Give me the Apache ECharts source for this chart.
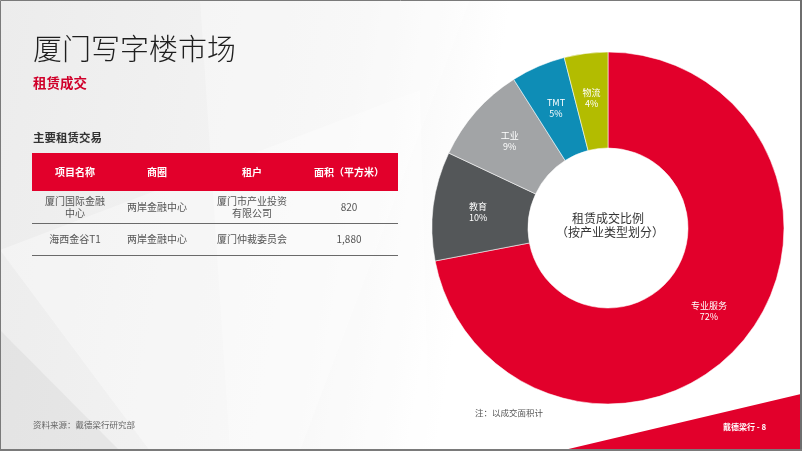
<!DOCTYPE html>
<html><head><meta charset="utf-8">
<script src="https://cdn.jsdelivr.net/npm/echarts@6/dist/echarts.min.js"></script>
<style>html,body{margin:0;padding:0;background:#fff}#c{width:802px;height:451px}</style>
</head><body><div id="c"></div>
<script>
const categories = ['专业服务', '教育', '工业', 'TMT', '物流'];
const shares = [72, 10, 9, 5, 4];
const sliceColors = ['#E2002B', '#545759', '#A2A4A6', '#0E8DB6', '#B3BC00'];

const tableHeader = ['项目名称', '商圈', '租户', '面积（平方米）'];
const tableRows = [
  ['厦门国际金融\n中心', '两岸金融中心', '厦门市产业投资\n有限公司', '820'],
  ['海西金谷T1', '两岸金融中心', '厦门仲裁委员会', '1,880']
];

const FONT = '"Noto Sans CJK SC", "Noto Sans", sans-serif';
const colX = [75, 157, 252, 349];
const tblLeft = 32, tblRight = 398, headTop = 153, headH = 38, rowH = 32;

const graphics = [];
// background
graphics.push({type:'rect', z:-10, shape:{x:0,y:0,width:802,height:451},
  style:{fill:{type:'linear',x:0,y:0,x2:1,y2:0.3,colorStops:[{offset:0,color:'#ECECEC'},{offset:0.45,color:'#F5F5F5'},{offset:0.62,color:'#FFFFFF'},{offset:1,color:'#FFFFFF'}]}}});
graphics.push({type:'polygon', z:-9, shape:{points:[[0,250],[420,90],[430,451],[150,451]]}, style:{fill:'rgba(255,255,255,0.35)'}});
graphics.push({type:'polygon', z:-9, shape:{points:[[200,0],[470,0],[300,451],[230,451]]}, style:{fill:'rgba(255,255,255,0.3)'}});
graphics.push({type:'polygon', z:-9, shape:{points:[[0,330],[0,451],[120,451]]}, style:{fill:'rgba(200,200,200,0.25)'}});
// red corner triangle
graphics.push({type:'polygon', z:5, shape:{points:[[560,451],[801,394],[801,451]]}, style:{fill:'#E2002B'}});
// border
graphics.push({type:'rect', z:50, shape:{x:0.5,y:0.5,width:800,height:449}, style:{fill:'none',stroke:'#7A7A7A',lineWidth:1}});
graphics.push({type:'rect', z:50, shape:{x:800,y:0,width:2,height:451}, style:{fill:'#6E6E6E'}});
graphics.push({type:'rect', z:50, shape:{x:0,y:449,width:802,height:2}, style:{fill:'#7A7A7A'}});
// titles
graphics.push({type:'text', z:10, style:{text:'厦门写字楼市场', x:33, y:49, verticalAlign:'middle', font:'300 29px ' + FONT, fill:'#1E1E1E'}});
graphics.push({type:'text', z:10, style:{text:'租赁成交', x:33, y:83, verticalAlign:'middle', font:'bold 13.5px ' + FONT, fill:'#D0002A'}});
graphics.push({type:'text', z:10, style:{text:'主要租赁交易', x:33, y:138, verticalAlign:'middle', font:'bold 11.5px ' + FONT, fill:'#333333'}});
// table header
graphics.push({type:'rect', z:10, shape:{x:tblLeft,y:headTop,width:tblRight-tblLeft,height:headH}, style:{fill:'#E2002B'}});
tableHeader.forEach((h, i) => {
  graphics.push({type:'text', z:11, style:{text:h, x:colX[i], y:headTop+headH/2, align:'center', verticalAlign:'middle', font:'bold 10px ' + FONT, fill:'#FFFFFF'}});
});
tableRows.forEach((row, r) => {
  const top = headTop + headH + r*rowH;
  row.forEach((cell, i) => {
    graphics.push({type:'text', z:11, style:{text:cell, x:colX[i], y:top+rowH/2, align:'center', verticalAlign:'middle', font:'10px ' + FONT, lineHeight:12, fill:'#555555'}});
  });
  graphics.push({type:'line', z:11, shape:{x1:tblLeft,y1:top+rowH+0.5,x2:tblRight,y2:top+rowH+0.5}, style:{stroke:'#6A6A6A',lineWidth:1}});
});
// center text
graphics.push({type:'text', z:12, style:{text:'租赁成交比例', x:608, y:218, align:'center', verticalAlign:'middle', font:'12px ' + FONT, fill:'#333333'}});
graphics.push({type:'text', z:12, style:{text:'（按产业类型划分）', x:610, y:232, align:'center', verticalAlign:'middle', font:'12px ' + FONT, fill:'#333333'}});
// footers
graphics.push({type:'text', z:12, style:{text:'资料来源：戴德梁行研究部', x:33, y:425, verticalAlign:'middle', font:'8.5px ' + FONT, fill:'#666666'}});
graphics.push({type:'text', z:12, style:{text:'注：以成交面积计', x:475, y:413, verticalAlign:'middle', font:'8.5px ' + FONT, fill:'#555555'}});
graphics.push({type:'text', z:12, style:{text:'戴德梁行 - 8', x:723, y:427, verticalAlign:'middle', font:'bold 8px ' + FONT, fill:'#FFFFFF'}});

const chart = echarts.init(document.getElementById('c'), null, {renderer:'canvas'});
chart.setOption({
  animation: false,
  backgroundColor: 'transparent',
  graphic: graphics,
  series: [{
    type: 'pie',
    z: 3,
    center: [608, 228],
    radius: [80, 176],
    startAngle: 90,
    clockwise: true,
    label: {
      show: true, position: 'inside', formatter: '{b}\n{c}%',
      color: '#FFFFFF', fontSize: 9, lineHeight: 11, fontFamily: FONT
    },
    labelLine: {show: false},
    itemStyle: {borderColor: 'rgba(255,255,255,0.7)', borderWidth: 0.8},
    emphasis: {disabled: true},
    data: categories.map((n, i) => ({name: n, value: shares[i], itemStyle: {color: sliceColors[i]}}))
  }]
});
</script></body></html>
